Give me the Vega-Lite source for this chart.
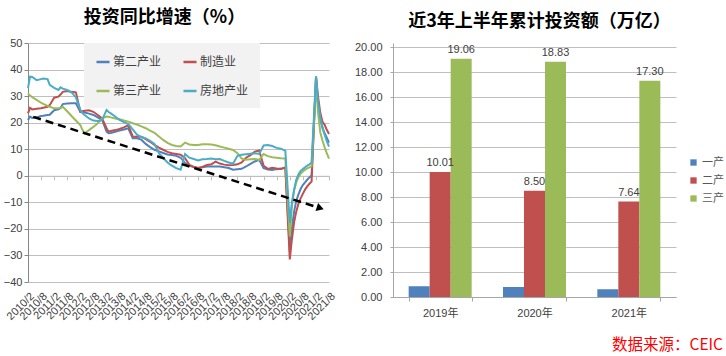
{
  "$schema": "https://vega.github.io/schema/vega-lite/v6.json",
  "padding": {"left": 3, "top": 9, "right": 0, "bottom": 0},
  "background": "white",
  "title": {"text": "数据来源：CEIC", "orient": "bottom", "anchor": "end", "color": "#ff0000", "fontSize": 15.5, "fontWeight": "normal", "font": "Noto Sans CJK SC", "offset": 16, "dx": -1},
  "datasets": {
    "growth": [
      {"d": "2010/02/01", "第二产业": 21.0, "制造业": 23.5, "第三产业": 31.0, "房地产业": 33.0},
      {"d": "2010/03/01", "第二产业": 22.3, "制造业": 25.6, "第三产业": 30.2, "房地产业": 37.3},
      {"d": "2010/04/01", "第二产业": 21.8, "制造业": 25.0, "第三产业": 29.6, "房地产业": 37.2},
      {"d": "2010/06/01", "第二产业": 22.0, "制造业": 25.2, "第三产业": 28.6, "房地产业": 36.0},
      {"d": "2010/08/01", "第二产业": 22.5, "制造业": 25.4, "第三产业": 27.5, "房地产业": 36.4},
      {"d": "2010/09/01", "第二产业": 22.6, "制造业": 25.6, "第三产业": 27.1, "房地产业": 36.6},
      {"d": "2010/11/01", "第二产业": 22.9, "制造业": 26.0, "第三产业": 26.3, "房地产业": 36.4},
      {"d": "2010/12/01", "第二产业": 23.0, "制造业": 26.6, "第三产业": 26.0, "房地产业": 34.2},
      {"d": "2011/02/01", "第二产业": 24.7, "制造业": 29.4, "第三产业": 25.4, "房地产业": 33.1},
      {"d": "2011/04/01", "第二产业": 25.0, "制造业": 29.8, "第三产业": 25.4, "房地产业": 32.3},
      {"d": "2011/05/01", "第二产业": 25.5, "制造业": 30.6, "第三产业": 25.6, "房地产业": 33.3},
      {"d": "2011/06/01", "第二产业": 27.0, "制造业": 31.6, "第三产业": 26.0, "房地产业": 32.8},
      {"d": "2011/08/01", "第二产业": 27.2, "制造业": 31.9, "第三产业": 24.3, "房地产业": 32.3},
      {"d": "2011/10/01", "第二产业": 27.3, "制造业": 31.6, "第三产业": 22.5, "房地产业": 31.4},
      {"d": "2011/12/01", "第二产业": 27.3, "制造业": 31.4, "第三产业": 20.8, "房地产业": 29.5},
      {"d": "2012/02/01", "第二产业": 24.1, "制造业": 24.1, "第三产业": 19.1, "房地产业": 24.8},
      {"d": "2012/03/01", "第二产业": 23.9, "制造业": 24.3, "第三产业": 17.3, "房地产业": 23.6},
      {"d": "2012/04/01", "第二产业": 23.8, "制造业": 24.5, "第三产业": 16.0, "房地产业": 22.9},
      {"d": "2012/06/01", "第二产业": 23.4, "制造业": 24.7, "第三产业": 17.2, "房地产业": 21.6},
      {"d": "2012/08/01", "第二产业": 22.9, "制造业": 24.1, "第三产业": 18.4, "房地产业": 20.8},
      {"d": "2012/10/01", "第二产业": 22.0, "制造业": 22.9, "第三产业": 19.8, "房地产业": 20.6},
      {"d": "2012/12/01", "第二产业": 21.0, "制造业": 21.6, "第三产业": 21.6, "房地产业": 21.0},
      {"d": "2013/02/01", "第二产业": 16.6, "制造业": 17.9, "第三产业": 22.3, "房地产业": 24.8},
      {"d": "2013/03/01", "第二产业": 16.0, "制造业": 16.6, "第三产业": 22.2, "房地产业": 24.0},
      {"d": "2013/04/01", "第二产业": 16.1, "制造业": 16.9, "第三产业": 22.0, "房地产业": 23.5},
      {"d": "2013/06/01", "第二产业": 16.6, "制造业": 17.2, "第三产业": 21.6, "房地产业": 22.3},
      {"d": "2013/08/01", "第二产业": 17.0, "制造业": 17.6, "第三产业": 21.3, "房地产业": 21.0},
      {"d": "2013/10/01", "第二产业": 17.4, "制造业": 18.2, "第三产业": 20.8, "房地产业": 20.2},
      {"d": "2013/12/01", "第二产业": 17.9, "制造业": 19.1, "第三产业": 20.4, "房地产业": 19.5},
      {"d": "2014/02/01", "第二产业": 14.1, "制造业": 14.8, "第三产业": 19.8, "房地产业": 17.5},
      {"d": "2014/04/01", "第二产业": 14.1, "制造业": 14.7, "第三产业": 19.3, "房地产业": 15.5},
      {"d": "2014/06/01", "第二产业": 13.6, "制造业": 14.7, "第三产业": 18.6, "房地产业": 14.6},
      {"d": "2014/08/01", "第二产业": 12.0, "制造业": 13.8, "第三产业": 17.9, "房地产业": 14.1},
      {"d": "2014/10/01", "第二产业": 10.8, "制造业": 12.8, "第三产业": 17.0, "房地产业": 13.2},
      {"d": "2014/12/01", "第二产业": 9.8, "制造业": 11.6, "第三产业": 16.2, "房地产业": 12.0},
      {"d": "2015/02/01", "第二产业": 9.2, "制造业": 10.6, "第三产业": 14.8, "房地产业": 8.5},
      {"d": "2015/04/01", "第二产业": 8.6, "制造业": 9.8, "第三产业": 13.5, "房地产业": 6.8},
      {"d": "2015/06/01", "第二产业": 8.0, "制造业": 9.0, "第三产业": 12.4, "房地产业": 5.0},
      {"d": "2015/08/01", "第二产业": 7.8, "制造业": 8.5, "第三产业": 11.6, "房地产业": 3.8},
      {"d": "2015/10/01", "第二产业": 7.5, "制造业": 8.2, "第三产业": 11.2, "房地产业": 2.9},
      {"d": "2015/12/01", "第二产业": 6.8, "制造业": 7.9, "第三产业": 11.0, "房地产业": 2.3},
      {"d": "2016/02/01", "第二产业": 4.8, "制造业": 6.6, "第三产业": 12.5, "房地产业": 8.2},
      {"d": "2016/04/01", "第二产业": 3.8, "制造业": 4.1, "第三产业": 11.8, "房地产业": 6.8},
      {"d": "2016/06/01", "第二产业": 3.3, "制造业": 3.3, "第三产业": 11.6, "房地产业": 6.3},
      {"d": "2016/08/01", "第二产业": 2.9, "制造业": 2.9, "第三产业": 11.6, "房地产业": 5.8},
      {"d": "2016/10/01", "第二产业": 3.2, "制造业": 3.3, "第三产业": 11.9, "房地产业": 6.2},
      {"d": "2016/12/01", "第二产业": 3.5, "制造业": 4.1, "第三产业": 11.9, "房地产业": 6.3},
      {"d": "2017/02/01", "第二产业": 3.5, "制造业": 4.3, "第三产业": 11.8, "房地产业": 6.5},
      {"d": "2017/04/01", "第二产业": 3.5, "制造业": 5.3, "第三产业": 11.5, "房地产业": 6.2},
      {"d": "2017/06/01", "第二产业": 3.5, "制造业": 4.6, "第三产业": 11.0, "房地产业": 6.3},
      {"d": "2017/08/01", "第二产业": 3.2, "制造业": 4.2, "第三产业": 10.6, "房地产业": 5.6},
      {"d": "2017/10/01", "第二产业": 2.9, "制造业": 4.0, "第三产业": 10.2, "房地产业": 5.0},
      {"d": "2017/12/01", "第二产业": 2.3, "制造业": 4.1, "第三产业": 9.7, "房地产业": 4.5},
      {"d": "2018/02/01", "第二产业": 2.5, "制造业": 4.3, "第三产业": 8.5, "房地产业": 7.5},
      {"d": "2018/04/01", "第二产业": 2.6, "制造业": 5.0, "第三产业": 6.5, "房地产业": 7.9},
      {"d": "2018/06/01", "第二产业": 3.5, "制造业": 6.8, "第三产业": 6.0, "房地产业": 8.1},
      {"d": "2018/08/01", "第二产业": 4.5, "制造业": 7.8, "第三产业": 6.2, "房地产业": 8.3},
      {"d": "2018/10/01", "第二产业": 5.4, "制造业": 9.1, "第三产业": 6.3, "房地产业": 8.5},
      {"d": "2018/12/01", "第二产业": 6.0, "制造业": 9.5, "第三产业": 6.0, "房地产业": 8.2},
      {"d": "2019/02/01", "第二产业": 2.9, "制造业": 3.8, "第三产业": 8.2, "房地产业": 11.4},
      {"d": "2019/04/01", "第二产业": 2.4, "制造业": 2.6, "第三产业": 7.4, "房地产业": 11.6},
      {"d": "2019/06/01", "第二产业": 2.2, "制造业": 3.0, "第三产业": 7.0, "房地产业": 11.2},
      {"d": "2019/08/01", "第二产业": 2.5, "制造业": 2.7, "第三产业": 6.8, "房地产业": 10.5},
      {"d": "2019/10/01", "第二产业": 2.6, "制造业": 2.6, "第三产业": 6.6, "房地产业": 10.2},
      {"d": "2019/12/01", "第二产业": 3.2, "制造业": 3.1, "第三产业": 6.5, "房地产业": 9.4},
      {"d": "2020/02/01", "第二产业": -28.4, "制造业": -31.5, "第三产业": -22.8, "房地产业": -17.8},
      {"d": "2020/03/01", "第二产业": -20.0, "制造业": -24.0, "第三产业": -11.5, "房地产业": -10.0},
      {"d": "2020/04/01", "第二产业": -13.5, "制造业": -17.5, "第三产业": -5.5, "房地产业": -5.3},
      {"d": "2020/05/01", "第二产业": -9.5, "制造业": -13.5, "第三产业": -2.5, "房地产业": -1.5},
      {"d": "2020/06/01", "第二产业": -7.0, "制造业": -10.5, "第三产业": -0.5, "房地产业": 0.5},
      {"d": "2020/07/01", "第二产业": -5.0, "制造业": -8.5, "第三产业": 0.8, "房地产业": 1.8},
      {"d": "2020/08/01", "第二产业": -3.5, "制造业": -6.8, "第三产业": 1.6, "房地产业": 2.5},
      {"d": "2020/09/01", "第二产业": -2.5, "制造业": -5.2, "第三产业": 2.3, "房地产业": 3.2},
      {"d": "2020/10/01", "第二产业": -1.5, "制造业": -4.0, "第三产业": 2.8, "房地产业": 3.8},
      {"d": "2020/11/01", "第二产业": -0.6, "制造业": -3.0, "第三产业": 3.2, "房地产业": 4.3},
      {"d": "2020/12/01", "第二产业": 0.1, "制造业": -2.2, "第三产业": 3.6, "房地产业": 5.0},
      {"d": "2021/02/01", "第二产业": 37.2, "制造业": 37.3, "第三产业": 34.0, "房地产业": 37.5},
      {"d": "2021/03/01", "第二产业": 27.0, "制造业": 29.8, "第三产业": 24.0, "房地产业": 28.0},
      {"d": "2021/04/01", "第二产业": 21.5, "制造业": 23.8, "第三产业": 16.4, "房地产业": 22.0},
      {"d": "2021/05/01", "第二产业": 18.0, "制造业": 20.4, "第三产业": 13.4, "房地产业": 18.5},
      {"d": "2021/06/01", "第二产业": 16.0, "制造业": 19.2, "第三产业": 10.7, "房地产业": 15.5},
      {"d": "2021/07/01", "第二产业": 14.3, "制造业": 17.3, "第三产业": 8.5, "房地产业": 13.0},
      {"d": "2021/08/01", "第二产业": 12.5, "制造业": 15.7, "第三产业": 6.5, "房地产业": 11.0}
    ],
    "trend": [
      {"d": "2010/04/15", "value": 22.2},
      {"d": "2021/04/01", "value": -12.2}
    ],
    "arrowhead": [
      {"d": "2021/04/01", "value": -12.2}
    ],
    "invest": [
      {"year": "2019年", "type": "一产", "value": 0.86},
      {"year": "2019年", "type": "二产", "value": 10.01},
      {"year": "2019年", "type": "三产", "value": 19.06},
      {"year": "2020年", "type": "一产", "value": 0.80},
      {"year": "2020年", "type": "二产", "value": 8.50},
      {"year": "2020年", "type": "三产", "value": 18.83},
      {"year": "2021年", "type": "一产", "value": 0.62},
      {"year": "2021年", "type": "二产", "value": 7.64},
      {"year": "2021年", "type": "三产", "value": 17.30}
    ]
  },
  "spacing": 17,
  "resolve": {"scale": {"color": "independent"}, "legend": {"color": "independent"}},
  "hconcat": [
    {
      "title": {"text": "投资同比增速（%）", "offset": 10, "dx": -14},
      "width": 301,
      "height": 239,
      "resolve": {"axis": {"x": "independent"}},
      "layer": [
        {
          "data": {"name": "growth"},
          "transform": [{"fold": ["第二产业", "制造业", "第三产业", "房地产业"], "as": ["series", "value"]}],
          "mark": {"type": "line", "strokeWidth": 2, "interpolate": "linear"},
          "encoding": {
            "x": {"field": "d", "type": "temporal",
              "scale": {"domain": [{"year": 2010, "month": 2, "date": 1}, {"year": 2021, "month": 8, "date": 1}]},
              "axis": {"orient": "bottom", "title": null, "format": "%Y/%-m", "labelAngle": -45, "labelOverlap": false, "labelFlush": false, "ticks": false, "domain": false, "grid": false, "labelPadding": 8, "labelFontSize": 11,
                "values": [
                  {"year": 2010, "month": 2, "date": 1}, {"year": 2010, "month": 8, "date": 1},
                  {"year": 2011, "month": 2, "date": 1}, {"year": 2011, "month": 8, "date": 1},
                  {"year": 2012, "month": 2, "date": 1}, {"year": 2012, "month": 8, "date": 1},
                  {"year": 2013, "month": 2, "date": 1}, {"year": 2013, "month": 8, "date": 1},
                  {"year": 2014, "month": 2, "date": 1}, {"year": 2014, "month": 8, "date": 1},
                  {"year": 2015, "month": 2, "date": 1}, {"year": 2015, "month": 8, "date": 1},
                  {"year": 2016, "month": 2, "date": 1}, {"year": 2016, "month": 8, "date": 1},
                  {"year": 2017, "month": 2, "date": 1}, {"year": 2017, "month": 8, "date": 1},
                  {"year": 2018, "month": 2, "date": 1}, {"year": 2018, "month": 8, "date": 1},
                  {"year": 2019, "month": 2, "date": 1}, {"year": 2019, "month": 8, "date": 1},
                  {"year": 2020, "month": 2, "date": 1}, {"year": 2020, "month": 8, "date": 1},
                  {"year": 2021, "month": 2, "date": 1}, {"year": 2021, "month": 8, "date": 1}
                ]}},
            "y": {"field": "value", "type": "quantitative", "title": null,
              "scale": {"domain": [-40, 50], "nice": false},
              "axis": {"values": [-40, -30, -20, -10, 0, 10, 20, 30, 40, 50], "labelOverlap": false, "grid": true, "tickSize": 4, "labelPadding": 2, "domainColor": "#868686", "tickColor": "#868686"}},
            "color": {"field": "series", "type": "nominal",
              "scale": {"domain": ["第二产业", "制造业", "第三产业", "房地产业"], "range": ["#4F81BD", "#C0504D", "#9BBB59", "#4BACC6"]},
              "legend": {"title": null, "orient": "none", "direction": "horizontal", "legendX": 56, "legendY": 0, "columns": 2, "symbolType": "stroke", "symbolSize": 170, "symbolStrokeWidth": 2.5, "labelFontSize": 12, "labelFont": "Noto Sans CJK SC", "labelColor": "#404040", "fillColor": "#f2f2f2", "padding": 11, "columnPadding": 16, "rowPadding": 15, "labelOffset": 2}}
          }
        },
        {
          "data": {"name": "trend"},
          "mark": {"type": "line", "color": "black", "strokeWidth": 2.5, "strokeDash": [8, 5]},
          "encoding": {
            "x": {"field": "d", "type": "temporal",
              "axis": {"orient": "bottom", "offset": -106.2, "title": null, "labels": false, "ticks": true, "tickSize": 4, "domain": true, "grid": false, "domainColor": "#bfbfbf", "tickColor": "#bfbfbf",
                "values": [
                  {"year": 2010, "month": 2, "date": 1}, {"year": 2010, "month": 8, "date": 1},
                  {"year": 2011, "month": 2, "date": 1}, {"year": 2011, "month": 8, "date": 1},
                  {"year": 2012, "month": 2, "date": 1}, {"year": 2012, "month": 8, "date": 1},
                  {"year": 2013, "month": 2, "date": 1}, {"year": 2013, "month": 8, "date": 1},
                  {"year": 2014, "month": 2, "date": 1}, {"year": 2014, "month": 8, "date": 1},
                  {"year": 2015, "month": 2, "date": 1}, {"year": 2015, "month": 8, "date": 1},
                  {"year": 2016, "month": 2, "date": 1}, {"year": 2016, "month": 8, "date": 1},
                  {"year": 2017, "month": 2, "date": 1}, {"year": 2017, "month": 8, "date": 1},
                  {"year": 2018, "month": 2, "date": 1}, {"year": 2018, "month": 8, "date": 1},
                  {"year": 2019, "month": 2, "date": 1}, {"year": 2019, "month": 8, "date": 1},
                  {"year": 2020, "month": 2, "date": 1}, {"year": 2020, "month": 8, "date": 1},
                  {"year": 2021, "month": 2, "date": 1}, {"year": 2021, "month": 8, "date": 1}
                ]}},
            "y": {"field": "value", "type": "quantitative", "title": null,
              "scale": {"domain": [-40, 50], "nice": false},
              "axis": {"values": [-40, -30, -20, -10, 0, 10, 20, 30, 40, 50], "labelOverlap": false, "grid": true, "tickSize": 4, "labelPadding": 2, "domainColor": "#868686", "tickColor": "#868686"}}
          }
        },
        {
          "data": {"name": "arrowhead"},
          "mark": {"type": "point", "shape": "triangle-right", "filled": true, "color": "black", "size": 70, "angle": 18, "opacity": 1},
          "encoding": {
            "x": {"field": "d", "type": "temporal", "axis": null},
            "y": {"field": "value", "type": "quantitative", "title": null,
              "scale": {"domain": [-40, 50], "nice": false},
              "axis": {"values": [-40, -30, -20, -10, 0, 10, 20, 30, 40, 50], "labelOverlap": false, "grid": true, "tickSize": 4, "labelPadding": 2, "domainColor": "#868686", "tickColor": "#868686"}}
          }
        }
      ]
    },
    {
      "title": {"text": "近3年上半年累计投资额（万亿）", "offset": 10, "dx": 5},
      "width": 283,
      "height": 254,
      "data": {"name": "invest"},
      "encoding": {
        "x": {"field": "year", "type": "nominal", "title": null,
          "scale": {"paddingInner": 0.332, "paddingOuter": 0.166},
          "axis": {"labelAngle": 0, "tickBand": "extent", "tickSize": 4, "labelPadding": 6, "domainColor": "#a6a6a6", "tickColor": "#a6a6a6", "labelFontSize": 11}},
        "xOffset": {"field": "type", "type": "nominal", "sort": ["一产", "二产", "三产"]},
        "y": {"field": "value", "type": "quantitative", "title": null,
          "scale": {"domain": [0, 20.32], "nice": false},
          "axis": {"values": [0, 2, 4, 6, 8, 10, 12, 14, 16, 18, 20], "labelOverlap": false, "format": ".2f", "grid": true, "tickSize": 3, "labelPadding": 8}}
      },
      "layer": [
        {
          "mark": {"type": "bar"},
          "encoding": {
            "color": {"field": "type", "type": "nominal",
              "scale": {"domain": ["一产", "二产", "三产"], "range": ["#4F81BD", "#C0504D", "#9BBB59"]},
              "legend": {"title": null, "orient": "none", "legendX": 295, "legendY": 114, "symbolType": "square", "symbolSize": 40, "labelFontSize": 11, "labelFont": "Noto Sans CJK SC", "labelColor": "#595959", "padding": 0, "rowPadding": 6, "labelOffset": 3, "symbolStrokeWidth": 0}}
          }
        },
        {
          "transform": [{"filter": "datum.type !== '一产'"}],
          "mark": {"type": "text", "baseline": "bottom", "dy": -4, "fontSize": 11, "color": "#404040"},
          "encoding": {
            "text": {"field": "value", "type": "quantitative", "format": ".2f"}
          }
        }
      ]
    }
  ],
  "config": {
    "view": {"stroke": null},
    "font": "Liberation Sans, Noto Sans CJK SC",
    "axis": {"labelColor": "#404040", "labelFont": "Liberation Sans, Noto Sans CJK SC", "labelFontSize": 11, "gridColor": "#bfbfbf", "domainColor": "#a6a6a6", "tickColor": "#a6a6a6"},
    "title": {"fontSize": 18, "font": "Noto Sans CJK SC", "fontWeight": "bold", "color": "#000000"},
    "text": {"font": "Liberation Sans, Noto Sans CJK SC"}
  }
}
